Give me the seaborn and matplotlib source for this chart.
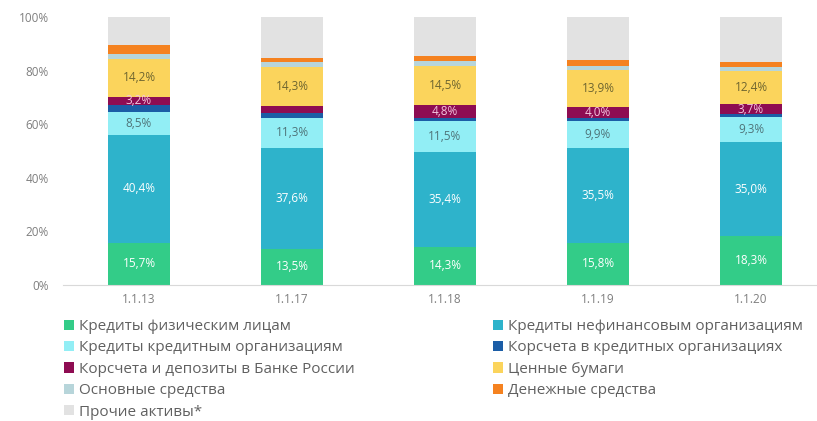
import matplotlib
matplotlib.use("Agg")
import matplotlib.pyplot as plt
import seaborn as sns
import pandas as pd
import numpy as np
from matplotlib.patches import Patch

dates = ["1.1.13", "1.1.17", "1.1.18", "1.1.19", "1.1.20"]
series_names = [
    "Кредиты физическим лицам",
    "Кредиты нефинансовым организациям",
    "Кредиты кредитным организациям",
    "Корсчета в кредитных организациях",
    "Корсчета и депозиты в Банке России",
    "Ценные бумаги",
    "Основные средства",
    "Денежные средства",
    "Прочие активы*",
]
loans_individuals = [15.7, 13.5, 14.3, 15.8, 18.3]
loans_nonfin = [40.4, 37.6, 35.4, 35.5, 35.0]
loans_credit_orgs = [8.5, 11.3, 11.5, 9.9, 9.3]
corr_credit_orgs = [2.5, 1.7, 1.3, 1.2, 1.1]
corr_cbr = [3.2, 2.8, 4.8, 4.0, 3.7]
securities = [14.2, 14.3, 14.5, 13.9, 12.4]
fixed_assets = [1.8, 1.9, 1.9, 1.6, 1.5]
cash = [3.2, 1.5, 1.8, 2.0, 2.0]
other = [round(100 - sum(v), 1) for v in zip(loans_individuals, loans_nonfin, loans_credit_orgs,
                                            corr_credit_orgs, corr_cbr, securities, fixed_assets, cash)]

series_values = [loans_individuals, loans_nonfin, loans_credit_orgs, corr_credit_orgs,
                 corr_cbr, securities, fixed_assets, cash, other]
colors = ["#33CC88", "#2EB3CB", "#92EEF5", "#1B5DA6", "#8E0C52",
          "#FBD45C", "#B7D5DA", "#F58220", "#E2E2E2"]
labels_show = [
    [True] * 5,
    [True] * 5,
    [True] * 5,
    [False] * 5,
    [True, False, True, True, True],
    [True] * 5,
    [False] * 5,
    [False] * 5,
    [False] * 5,
]
label_colors = ["white", "white", "#4F7479", None, "#F4C6E0", "#6E6530", None, None, None]

W, H = 817, 421
fig = plt.figure(figsize=(W / 100, H / 100), dpi=100)
plt.rcParams["font.family"] = ["Open Sans", "DejaVu Sans"]
left_px, right_px, bottom_px, top_px = 62.5, 817, 285, 17
ax = fig.add_axes([left_px / W, 1 - bottom_px / H, (right_px - left_px) / W, (bottom_px - top_px) / H])

bottoms = np.zeros(len(dates))
for name, vals, col, show, lc in zip(series_names, series_values, colors, labels_show, label_colors):
    df = pd.DataFrame({"date": dates, "value": vals})
    sns.barplot(data=df, x="date", y="value", order=dates, color=col, bottom=bottoms.copy(),
                width=0.4, ax=ax, saturation=1, edgecolor="none", linewidth=0)
    for i, v in enumerate(vals):
        if show[i]:
            ax.text(i, bottoms[i] + v / 2, f"{v:.1f}%".replace(".", ","), ha="center", va="center",
                    color=lc, fontsize=8.5)
    bottoms += np.array(vals)

ax.set_xlim(-0.5, -0.5 + (right_px - left_px) / 153.0)
ax.set_ylim(0, 100)
ax.set_yticks([0, 20, 40, 60, 80, 100])
ax.set_yticklabels([f"{t}%" for t in [0, 20, 40, 60, 80, 100]])
ax.set_xlabel("")
ax.set_ylabel("")
for s in ["top", "right", "left"]:
    ax.spines[s].set_visible(False)
ax.spines["bottom"].set_color("#D9D9D9")
ax.tick_params(axis="both", length=0, colors="#7F7F7F", labelsize=8.5)
ax.tick_params(axis="y", pad=10)
ax.tick_params(axis="x", pad=6)
ax.grid(False)

handles = [Patch(facecolor=c, edgecolor="none") for c in colors]
col1 = [0, 2, 4, 6, 8]
col2 = [1, 3, 5, 7]
leg_kw = dict(frameon=False, fontsize=11, labelcolor="#606060", handlelength=0.65, handleheight=0.65,
              handletextpad=0.3, labelspacing=0.42, borderaxespad=0, borderpad=0)
fig.legend([handles[i] for i in col1], [series_names[i] for i in col1], loc="upper left",
           bbox_to_anchor=(64 / W, 1 - 319 / H), **leg_kw)
fig.legend([handles[i] for i in col2], [series_names[i] for i in col2], loc="upper left",
           bbox_to_anchor=(493 / W, 1 - 319 / H), **leg_kw)

fig.savefig("out.png", dpi=100)
